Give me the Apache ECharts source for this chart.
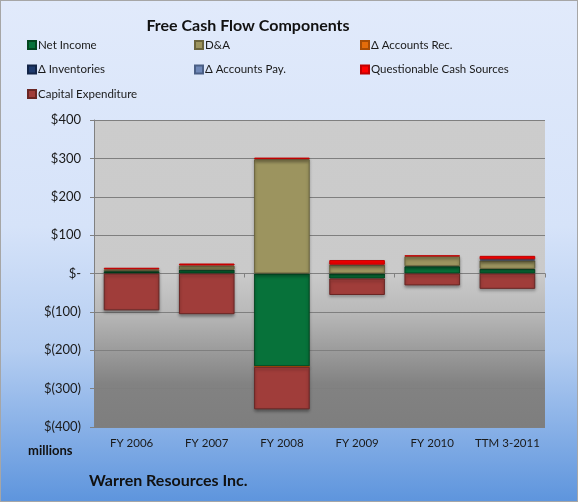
<!DOCTYPE html>
<html>
<head>
<meta charset="utf-8">
<script src="https://cdn.jsdelivr.net/npm/echarts@6/dist/echarts.min.js"></script>
<style>
  html, body { margin: 0; padding: 0; }
  #box {
    width: 578px; height: 502px; box-sizing: border-box;
    border: 1px solid #a6a6a6;
    background: linear-gradient(to bottom, #e1eafb 0%, #d6e3f9 45%, #b4cdf1 70%, #5e95dd 100%);
  }
  #main { width: 576px; height: 500px; }
</style>
</head>
<body>
<div id="box"><div id="main"></div></div>
<script>
  // values in $ millions
  const categories = ['FY 2006', 'FY 2007', 'FY 2008', 'FY 2009', 'FY 2010', 'TTM 3-2011']
  const netIncome = [6, 10, -242, -13, 19, 12]
  const depAmort = [5, 11, 298, 23, 26, 22]
  const accountsRec = [0, 0, -1, 0, 0, 0]
  const inventories = [0, 0, 0, 0, 0, 0]
  const accountsPay = [0, 0, 0, 0, 0, 3]
  const questionable = [4, 5, 4, 12, 2, 9]
  const capex = [-96, -106, -111, -43, -31, -40]
  const yTicks = [-400, -300, -200, -100, 0, 100, 200, 300, 400]

  const font = 'Lato, "Open Sans", sans-serif'

  function money(v) {
    if (v === 0) return '$-'
    if (v < 0) return '$(' + (-v) + ')'
    return '$' + v
  }

  function bar(name, data, color, border) {
    return {
      name: name,
      type: 'bar',
      stack: 'fcf',
      barWidth: '74%',
      data: data.map(v => v === 0 ? '-' : v),
      itemStyle: {
        color: color,
        borderColor: border,
        borderWidth: 1,
        shadowColor: 'rgba(0,0,0,0.35)',
        shadowBlur: 3,
        shadowOffsetY: 2
      }
    }
  }

  const legendText = { color: '#1a1a1a', fontSize: 11.5, fontFamily: font, lineHeight: 14, padding: [0, 0, 0, -3] }
  function legendCol(left, names) {
    return {
      orient: 'vertical', left: left, top: 32,
      itemWidth: 8, itemHeight: 8, itemGap: 10.5,
      icon: 'rect',
      textStyle: legendText,
      data: names,
      selectedMode: false
    }
  }

  const myChart = echarts.init(document.getElementById('main'))
  const option = {
    animation: false,
    graphic: [
      { type: 'text', x: 247, y: 25,
        style: { text: 'Free Cash Flow Components', font: 'bold 16px ' + font, fill: '#111',
                 align: 'center', verticalAlign: 'middle' } },
      { type: 'text', x: 27, y: 450,
        style: { text: 'millions', font: 'bold 13px ' + font, fill: '#111', verticalAlign: 'middle' } },
      { type: 'text', x: 88, y: 480,
        style: { text: 'Warren Resources Inc.', font: 'bold 16px ' + font, fill: '#111', verticalAlign: 'middle' } }
    ],
    legend: [
      legendCol(21, ['Net Income', 'Δ Inventories', 'Capital Expenditure']),
      legendCol(188, ['D&A', 'Δ Accounts Pay.']),
      legendCol(354, ['Δ Accounts Rec.', 'Questionable Cash Sources'])
    ],
    grid: {
      left: 93, right: 32, top: 119, bottom: 74,
      show: true,
      borderWidth: 0,
      backgroundColor: new echarts.graphic.LinearGradient(0, 0, 0, 1, [
        { offset: 0, color: '#cccccc' },
        { offset: 0.5, color: '#cacaca' },
        { offset: 0.62, color: '#bababa' },
        { offset: 0.86, color: '#828282' },
        { offset: 1, color: '#7e7e7e' }
      ])
    },
    xAxis: [
      {
        type: 'category', data: categories, position: 'bottom',
        axisLine: { onZero: true, lineStyle: { color: '#808080', width: 1 } },
        axisTick: { show: true, length: 4, lineStyle: { color: '#808080' } },
        axisLabel: { show: false }
      },
      {
        type: 'category', data: categories, position: 'bottom',
        axisLine: { show: false, onZero: false },
        axisTick: { show: false },
        axisLabel: { interval: 0, color: '#1a1a1a', fontSize: 11.5, fontFamily: font, margin: 10 }
      }
    ],
    yAxis: {
      type: 'value', min: yTicks[0], max: yTicks[yTicks.length - 1], interval: 100,
      axisLine: { show: true, lineStyle: { color: '#808080' } },
      axisTick: { show: true, length: 4, lineStyle: { color: '#808080' } },
      axisLabel: { formatter: money, color: '#1a1a1a', fontSize: 13, fontFamily: font, margin: 13 },
      splitLine: { lineStyle: { color: '#7f7f7f', width: 1 } }
    },
    series: [
      bar('Net Income', netIncome, '#07723a', '#03461f'),
      bar('D&A', depAmort, '#9c945f', '#6a643d'),
      bar('Δ Accounts Rec.', accountsRec, '#e46c0a', '#a84d05'),
      bar('Δ Inventories', inventories, '#1f3b6e', '#122447'),
      bar('Δ Accounts Pay.', accountsPay, '#6f88b8', '#4a5f86'),
      bar('Questionable Cash Sources', questionable, '#ff0000', '#c00000'),
      bar('Capital Expenditure', capex, '#a03d3a', '#6a2624')
    ]
  }
  myChart.setOption(option)
</script>
</body>
</html>
